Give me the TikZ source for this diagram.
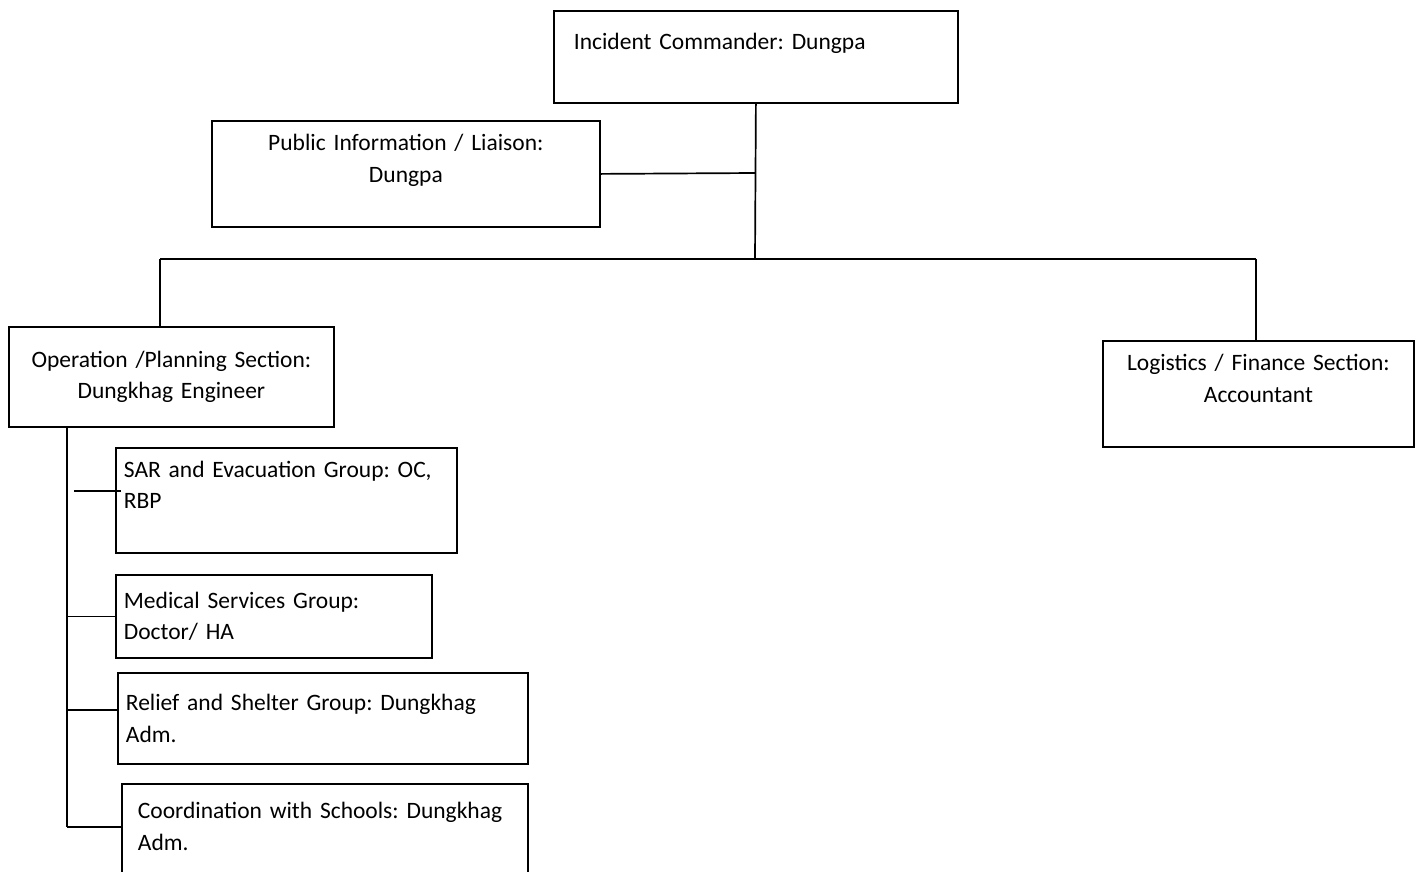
\documentclass[tikz,border=0pt]{standalone}
\usepackage{fontspec}
\setmainfont{Carlito}
\frenchspacing
\usepackage{tikz}
\usetikzlibrary{positioning,calc}
\tikzset{
  rolebox/.style={rectangle, draw=black, line width=1.8pt, anchor=north west, inner ysep=0pt, font=\fontsize{23.5}{31.5}\selectfont},
  link/.style={line width=1.7pt, draw=black}
}

\begin{document}
\begin{tikzpicture}[x=1pt, y=-1pt]
  \useasboundingbox (0,0) rectangle (1418,871);

  % command level
  \node[rolebox, minimum width=404pt, minimum height=92pt, text width=364pt, inner xsep=20pt, align=left] (ic) at (553,10) {Incident Commander: Dungpa\\ \mbox{}};
  \node[rolebox, minimum width=388pt, minimum height=106pt, text width=372pt, inner xsep=8pt, align=center] (pi) at (211,120) {Public Information / Liaison:\\Dungpa\\ \mbox{}};

  % sections
  \node[rolebox, minimum width=325pt, minimum height=100pt, text width=309pt, inner xsep=8pt, align=center] (op) at (8,326) {Operation /Planning Section:\\Dungkhag Engineer};
  \node[rolebox, minimum width=311pt, minimum height=106pt, text width=295pt, inner xsep=8pt, align=center] (log) at (1102,340) {Logistics / Finance Section:\\Accountant\\ \mbox{}};

  % groups
  \node[rolebox, minimum width=341pt, minimum height=105pt, text width=325pt, inner xsep=8pt, align=left] (sar) at (115,447) {SAR and Evacuation Group: OC,\\RBP\\ \mbox{}};
  \node[rolebox, minimum width=316pt, minimum height=83pt, text width=300pt, inner xsep=8pt, align=left] (med) at (115,574) {Medical Services Group:\\Doctor/ HA};
  \node[rolebox, minimum width=410pt, minimum height=91pt, text width=394pt, inner xsep=8pt, align=left] (rel) at (117,672) {Relief and Shelter Group: Dungkhag\\Adm.};
  \node[rolebox, minimum width=406pt, minimum height=116pt, text width=374pt, inner xsep=16pt, align=left] (co) at (121,783) {Coordination with Schools: Dungkhag\\Adm.\\ \mbox{}};

  \coordinate (liai) at (755,173);
  \coordinate (hub) at (755,259);
  \coordinate (busL) at (160,259);
  \coordinate (busR) at (1256,259);
  \coordinate (sarJ) at (74,491);
  \coordinate (relJ) at (67,710);
  \coordinate (coJ) at (67,827);

  \draw[link] (ic.south) -- (hub);
  \draw[link] (pi.east) -- (liai);
  \draw[link] (busL) -- (busR);
  \draw[link] (busL) -- (busL |- op.north);
  \draw[link] (busR) -- (busR |- log.north);

  \draw[link] (coJ |- op.south) -- (coJ);
  \draw[link] (sarJ) -- ([xshift=6pt]sarJ -| sar.west);
  \draw[link] (coJ |- med.west) -- (med.west);
  \draw[link] (relJ) -- (relJ -| rel.west);
  \draw[link] (coJ) -- (coJ -| co.west);
\end{tikzpicture}
\end{document}
